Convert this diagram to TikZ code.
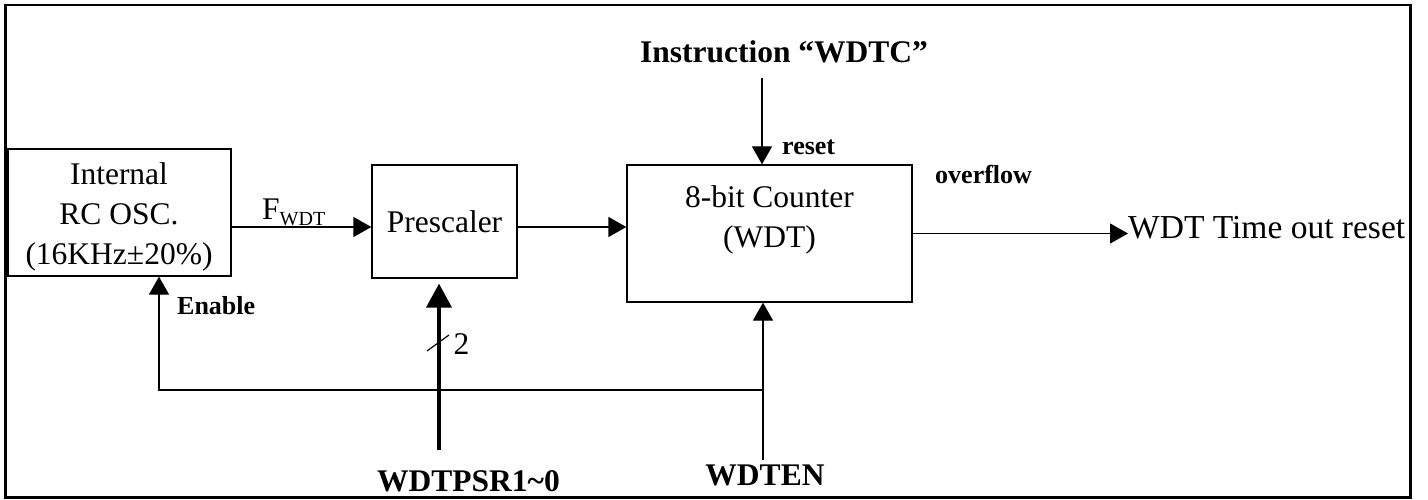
\documentclass[tikz,border=0pt]{standalone}
\usepackage{fontspec}
\setmainfont{Liberation Serif}
\usetikzlibrary{arrows.meta,calc}
\begin{document}
\begin{tikzpicture}[x=1pt,y=-1pt,
  box/.style={draw,line width=1.3pt,inner sep=0pt},
  lbl/.style={inner sep=0pt,font=\fontsize{31.5}{40}\selectfont},
  blbl/.style={inner sep=0pt,font=\fontsize{31.5}{40}\selectfont\bfseries},
  slbl/.style={inner sep=0pt,font=\fontsize{26}{30}\selectfont\bfseries},
  arr/.style={line width=1.3pt,-{Triangle[length=18pt,width=20pt]}},
  busarr/.style={line width=3.8pt,-{Triangle[length=24pt,width=25pt]}},
  wire/.style={line width=1.3pt}]
\useasboundingbox (0,0) rectangle (1428,500);
\draw[line width=2.5pt] (5.5,5) rectangle (1410.5,497.5);
% blocks
\node[box,minimum width=223pt,minimum height=127pt] (osc) at (119.5,212.5) {};
\node[lbl,align=center] (osctxt) at (119,217) {Internal\\RC OSC.\\(16KHz±20\%)};
\node[box,minimum width=145pt,minimum height=113pt,font=\fontsize{31.5}{40}\selectfont] (pre) at (444.5,221.5) {Prescaler};
\node[box,minimum width=285pt,minimum height=137pt] (cnt) at (769.5,233.5) {};
\node[lbl,align=center] (cnttxt) at (769.5,220) {8-bit Counter\\(WDT)};
% signal path
\coordinate (sig) at (0,227);
\draw[arr] (osc.east |- sig) -- (pre.west |- sig);
\draw[arr] (pre.east |- sig) -- (cnt.west |- sig);
\node[lbl,anchor=base west] (fwdt) at (262,219) {F\raisebox{-6.5pt}{\fontsize{20}{20}\selectfont WDT}};
% reset input
\node[blbl,anchor=base] (instr) at (784,63) {Instruction “WDTC”};
\coordinate (rtop) at (762,78);
\draw[arr] (rtop) -- (rtop |- cnt.north);
\node[slbl,anchor=base west] (rst) at (782,155) {reset};
% output
\node[slbl,anchor=base west] (ovf) at (935,184) {overflow};
\node[inner sep=0pt,font=\fontsize{33.5}{40}\selectfont,anchor=base west] (out) at (1128,238) {WDT Time out reset};
\draw[arr] (cnt.east) -- (cnt.east -| out.west);
% enable
\coordinate (j) at (763,390);
\coordinate (en) at (763,460);
\coordinate (ex) at (159,0);
\draw[arr] (en) -- (en |- cnt.south);
\draw[arr] (j) -| (ex |- osc.south);
\node[slbl,anchor=base west] (enb) at (177,314) {Enable};
\node[blbl,anchor=base] (wdten) at (765,485) {WDTEN};
% prescaler select bus
\coordinate (ps) at (439,450);
\draw[busarr,shorten >=5pt] (ps) -- (ps |- pre.south);
\coordinate (sl) at (438,343);
\draw[line width=1.2pt] ($(sl)+(-11,8)$) -- ($(sl)+(11,-8)$);
\node[lbl] (two) at (461.5,344) {2};
\node[blbl,anchor=base west] (psr) at (377,491) {WDTPSR1\textasciitilde 0};
\end{tikzpicture}
\end{document}
